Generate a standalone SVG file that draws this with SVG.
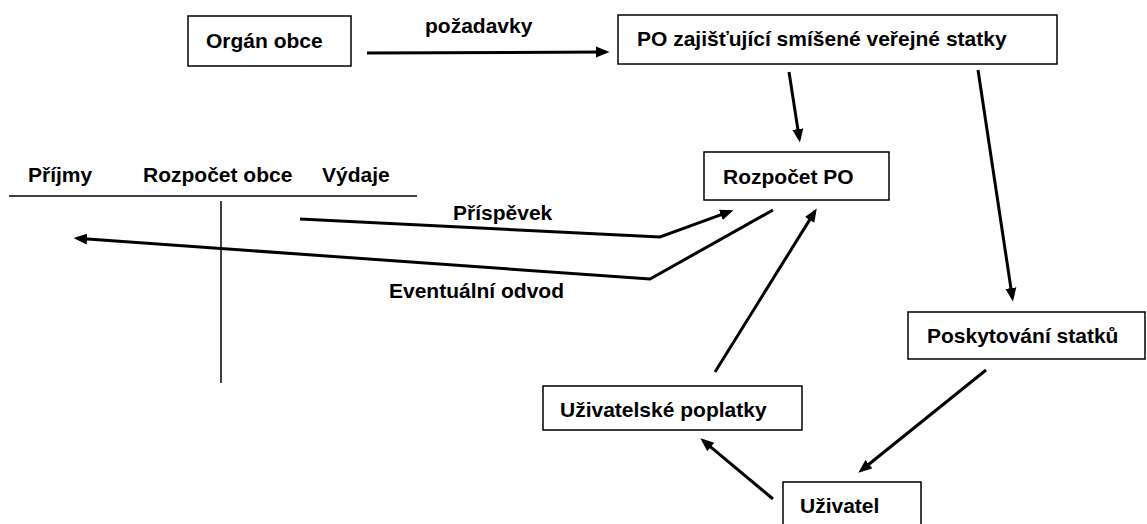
<svg xmlns="http://www.w3.org/2000/svg" width="1147" height="524" viewBox="0 0 1147 524">
<style>
text{font-family:"Liberation Sans",Arial,sans-serif;font-weight:bold;font-size:21px;fill:#000}
.box{fill:#fff;stroke:#000;stroke-width:1.5}
.c{fill:none;stroke:#000;stroke-width:3;stroke-linejoin:miter}
.t{stroke:#000;stroke-width:1.5}
</style>
<defs>
<marker id="ah" markerUnits="userSpaceOnUse" markerWidth="14" markerHeight="12" refX="10" refY="6" orient="auto">
<path d="M0,0.5 L13.5,6 L0,11.5 z" fill="#000"/>
</marker>
</defs>
<rect width="1147" height="524" fill="#fff"/>
<g id="rozpocet-obce">
<line class="t" x1="9" y1="196" x2="417" y2="196"/>
<line class="t" x1="221" y1="201" x2="221" y2="383"/>
<text x="28" y="182">Příjmy</text>
<text x="143" y="182">Rozpočet obce</text>
<text x="322" y="182">Výdaje</text>
</g>
<g id="connectors">
<line class="c" x1="367" y1="53" x2="606" y2="52" marker-end="url(#ah)"/>
<line class="c" x1="789" y1="72" x2="799.4" y2="139" marker-end="url(#ah)"/>
<line class="c" x1="978" y1="70" x2="1012.4" y2="298" marker-end="url(#ah)"/>
<line class="c" x1="986" y1="370" x2="861.1" y2="470.5" marker-end="url(#ah)"/>
<line class="c" x1="773" y1="499" x2="703.1" y2="440.6" marker-end="url(#ah)"/>
<line class="c" x1="715" y1="372" x2="814.9" y2="211.4" marker-end="url(#ah)"/>
<polyline class="c" points="300,219 660,237 730.2,211.4" marker-end="url(#ah)"/>
<polyline class="c" points="773,210 650,279 77,238.3" marker-end="url(#ah)"/>
<text x="425" y="33">požadavky</text>
<text x="453" y="220">Příspěvek</text>
<text x="389" y="298">Eventuální odvod</text>
</g>
<g id="organ-obce">
<rect class="box" x="188" y="16" width="163" height="50"/>
<text x="206" y="48">Orgán obce</text>
</g>
<g id="po">
<rect class="box" x="618" y="15" width="439" height="49"/>
<text x="637" y="46">PO zajišťující smíšené veřejné statky</text>
</g>
<g id="rozpocet-po">
<rect class="box" x="704" y="152" width="185" height="48"/>
<text x="723" y="184">Rozpočet PO</text>
</g>
<g id="poskytovani">
<rect class="box" x="908" y="312" width="237" height="47"/>
<text x="927" y="343">Poskytování statků</text>
</g>
<g id="poplatky">
<rect class="box" x="543" y="386" width="259" height="44"/>
<text x="560" y="417">Uživatelské poplatky</text>
</g>
<g id="uzivatel">
<rect class="box" x="783" y="482" width="138" height="50"/>
<text x="800" y="513">Uživatel</text>
</g>
</svg>
